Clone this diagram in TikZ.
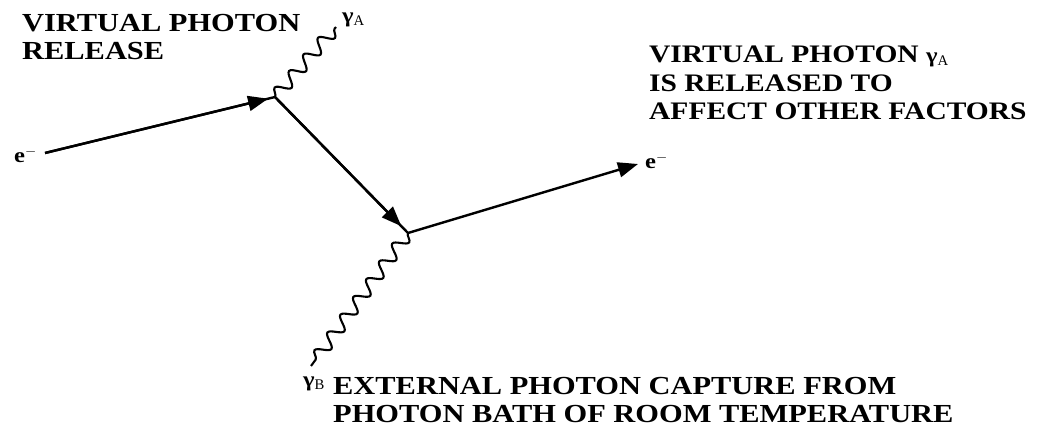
\documentclass[tikz,border=0pt]{standalone}
\usepackage{fontspec}
\setmainfont{Liberation Serif}
\newfontfamily\labfont[FakeStretch=1.17]{Liberation Serif}
\usetikzlibrary{arrows.meta,decorations.pathmorphing,calc}
\begin{document}
\begin{tikzpicture}[x=1pt,y=-1pt,
  line/.style={line width=2.4pt},
  tip/.style={-{Triangle[length=20pt,width=15pt]}},
  photon/.style={line width=2.1pt,decorate,decoration={snake,segment length=22pt,amplitude=6.5pt}},
  lab/.style={font=\labfont\fontsize{26}{28.5}\selectfont\bfseries,align=left,inner sep=0pt,anchor=north west},
  small/.style={font=\labfont\fontsize{21}{22}\selectfont\bfseries,inner sep=0pt}]
\useasboundingbox (0,0) rectangle (1038,430);
\coordinate (ein) at (45,153);
\coordinate (A) at (275,97);
\coordinate (B) at (408,233);
\coordinate (eout) at (638,164);
\coordinate (gA) at (336,27);
\coordinate (gB) at (311,366);
% electron lines
\draw[line] (ein) -- (A);
\draw[line,tip] (ein) -- ($(ein)!0.97!(A)$);
\draw[line] (A) -- (B);
\draw[line,tip] (A) -- ($(A)!0.95!(B)$);
\draw[line,tip] (B) -- (eout);
% photons
\draw[photon] (A) -- (gA);
\draw[photon] (B) -- (gB);
% labels
\node[small,anchor=east] (le1) at (37,155) {e$^{-}$};
\node[small,anchor=west] (le2) at (645,161) {e$^{-}$};
\node[small,anchor=west] (lgA) at (342,20) {γ$_{\mathrm{A}}$};
\node[small,anchor=west] (lgB) at (303,384) {γ$_{\mathrm{B}}$};
\node[lab] (t1) at (22,14) {VIRTUAL PHOTON\\RELEASE};
\node[lab,font=\labfont\fontsize{25.2}{28.5}\selectfont\bfseries] (t2) at (649,46) {VIRTUAL PHOTON {\fontsize{21}{22}\selectfont γ$_{\mathrm{A}}$}\\IS RELEASED TO\\AFFECT OTHER FACTORS};
\node[lab] (t3) at (333,377) {EXTERNAL PHOTON CAPTURE FROM\\PHOTON BATH OF ROOM TEMPERATURE};
\end{tikzpicture}
\end{document}
